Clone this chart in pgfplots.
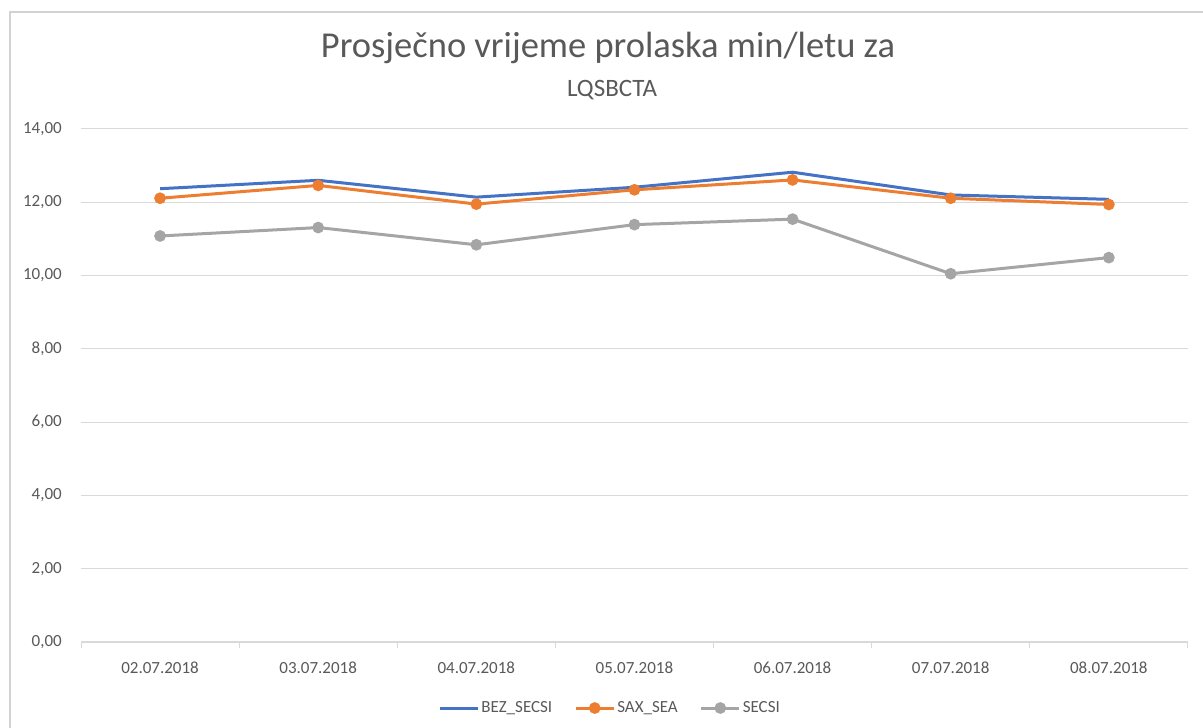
\documentclass[border=0pt]{standalone}
\usepackage{pgfplots}
\pgfplotsset{compat=1.18}
\usepackage{fontspec}
\setmainfont{Carlito}
\definecolor{txt}{HTML}{595959}
\definecolor{gridc}{HTML}{D9D9D9}
\definecolor{cblue}{HTML}{4472C4}
\definecolor{corange}{HTML}{ED7D31}
\definecolor{cgray}{HTML}{A5A5A5}
\begin{document}
\begin{tikzpicture}
\path[use as bounding box] (0,0) rectangle (1203bp,728bp);
\draw[color=gray!35, line width=1.2bp] (10bp,0bp) -- (10bp,716bp) -- (1203bp,716bp);
\node[text=txt, font=\fontsize{36.5bp}{42bp}\selectfont] at (608bp,680bp) {Prosječno vrijeme prolaska min/letu za};
\node[text=txt, font=\fontsize{25bp}{30bp}\selectfont] at (612bp,638bp) {LQSBCTA};
\begin{axis}[
  at={(81bp,86bp)}, anchor=south west,
  scale only axis, width=1107bp, height=513bp,
  xmin=-0.5, xmax=6.5, ymin=0, ymax=14,
  xtick={0,...,6},
  xticklabels={02.07.2018,03.07.2018,04.07.2018,05.07.2018,06.07.2018,07.07.2018,08.07.2018},
  minor xtick={-0.5,0.5,...,6.5},
  ytick={0,2,...,14},
  major tick length=0pt, minor tick length=6bp, tick align=outside,
  minor tick style={color=gridc, line width=1bp},
  axis x line*=bottom, axis y line*=left,
  y axis line style={draw=none},
  x axis line style={color=gridc, line width=1.2bp},
  ymajorgrids, grid style={color=gridc, line width=1bp},
  /pgf/number format/assume math mode=true,
  yticklabel={\pgfmathprintnumber[fixed,fixed zerofill,precision=2,use comma]{\tick}},
  ticklabel style={text=txt, font=\fontsize{17bp}{20bp}\selectfont},
  yticklabel style={inner xsep=0pt, xshift=-19bp},
  xticklabel style={inner ysep=0pt, yshift=-20bp},
  legend columns=3,
  legend style={at={(0.478,-0.1287)}, anchor=center, draw=none, fill=none,
    font=\fontsize{17bp}{20bp}\selectfont, text=txt,
    /tikz/every even column/.append style={column sep=20bp}},
  legend image code/.code={\draw[mark repeat=2,mark phase=2] plot coordinates {(0bp,0bp)(19bp,0bp)(38bp,0bp)};},
]
\addplot[cblue, line width=3bp, no marks] coordinates {(0,12.37)(1,12.60)(2,12.14)(3,12.41)(4,12.82)(5,12.20)(6,12.08)};
\addlegendentry{BEZ\_SECSI}
\addplot[corange, line width=3bp, mark=*, mark size=4.3bp] coordinates {(0,12.11)(1,12.46)(2,11.95)(3,12.34)(4,12.61)(5,12.11)(6,11.94)};
\addlegendentry{SAX\_SEA}
\addplot[cgray, line width=3bp, mark=*, mark size=4.3bp] coordinates {(0,11.08)(1,11.31)(2,10.84)(3,11.39)(4,11.54)(5,10.05)(6,10.49)};
\addlegendentry{SECSI}
\end{axis}
\end{tikzpicture}
\end{document}
